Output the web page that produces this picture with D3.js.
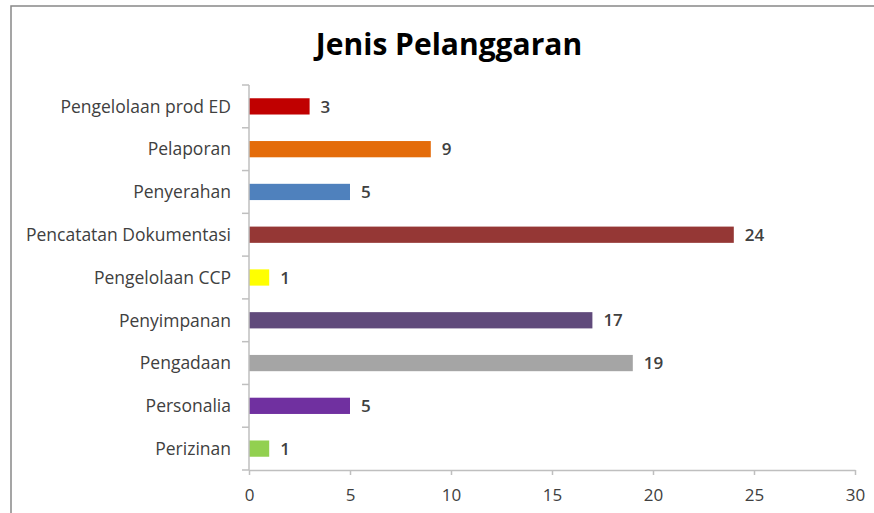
<!DOCTYPE html>
<html><head><meta charset="utf-8">
<script src="https://cdn.jsdelivr.net/npm/d3@7"></script>
<style>body{margin:0;background:#fff;} svg{display:block;}</style>
</head><body>
<script>
const categories = ["Pengelolaan prod ED","Pelaporan","Penyerahan","Pencatatan Dokumentasi","Pengelolaan CCP","Penyimpanan","Pengadaan","Personalia","Perizinan"];
const values = [3,9,5,24,1,17,19,5,1];
const colors = ["#C00000","#E46C0A","#4F81BD","#953735","#FFFF00","#604A7B","#A5A5A5","#7030A0","#92D050"];
const xTicks = [0,5,10,15,20,25,30];
const title = "Jenis Pelanggaran";

(function(){
const W=874,H=513;
const svg=d3.select("body").append("svg").attr("width",W).attr("height",H);
const font="'Open Sans', 'Liberation Sans', sans-serif";
// frame
svg.append("rect").attr("x",12).attr("y",7).attr("width",W+10).attr("height",H+10)
  .attr("fill","none").attr("stroke","#d0d0d0").attr("stroke-width",2);
svg.append("rect").attr("x",11).attr("y",6).attr("width",W+10).attr("height",H+10)
  .attr("fill","#fff").attr("stroke","#888").attr("stroke-width",1.5);

const plotTop=85, plotBottom=470;
const x=d3.scaleLinear().domain([0,30]).range([249,855]);
const y=d3.scaleBand().domain(categories).range([plotTop,plotBottom]).paddingInner(0.62).paddingOuter(0.31);

svg.append("text").attr("x",449).attr("y",55).attr("text-anchor","middle")
  .attr("font-family",font).attr("font-weight","bold").attr("font-size",30).attr("fill","#000").text(title);

// bars
svg.selectAll(".bar").data(categories).enter().append("rect")
  .attr("x",x(0)).attr("y",d=>y(d)).attr("height",y.bandwidth())
  .attr("width",(d,i)=>x(values[i])-x(0)).attr("fill",(d,i)=>colors[i]);

// value labels
svg.selectAll(".vl").data(categories).enter().append("text")
  .attr("x",(d,i)=>x(values[i])+11).attr("y",d=>y(d)+y.bandwidth()/2).attr("dy","0.36em")
  .attr("font-family",font).attr("font-size",17).attr("font-weight","600").attr("fill","#404040")
  .text((d,i)=>values[i]);

// y axis
const axisColor="#bfbfbf";
svg.append("line").attr("x1",249).attr("x2",249).attr("y1",plotTop).attr("y2",plotBottom).attr("stroke",axisColor).attr("stroke-width",1.5);
d3.range(categories.length+1).forEach(i=>{
  const yy=plotTop+i*y.step();
  svg.append("line").attr("x1",242).attr("x2",249).attr("y1",yy).attr("y2",yy).attr("stroke",axisColor).attr("stroke-width",1.5);
});
svg.selectAll(".cl").data(categories).enter().append("text")
  .attr("x",231).attr("y",d=>y(d)+y.bandwidth()/2).attr("dy","0.36em").attr("text-anchor","end")
  .attr("font-family",font).attr("font-size",17.5).attr("fill","#404040").text(d=>d);

// x axis
const xa=svg.append("g").attr("transform",`translate(0,${plotBottom})`)
  .call(d3.axisBottom(x).tickValues(xTicks).tickSize(5).tickPadding(14).tickSizeOuter(0));
xa.select(".domain").attr("stroke",axisColor).attr("stroke-width",1.5);
xa.selectAll(".tick line").attr("stroke",axisColor).attr("stroke-width",1.5);
xa.selectAll(".tick text").attr("font-family",font).attr("font-size",17).attr("fill","#404040");
})();
</script>
</body></html>
